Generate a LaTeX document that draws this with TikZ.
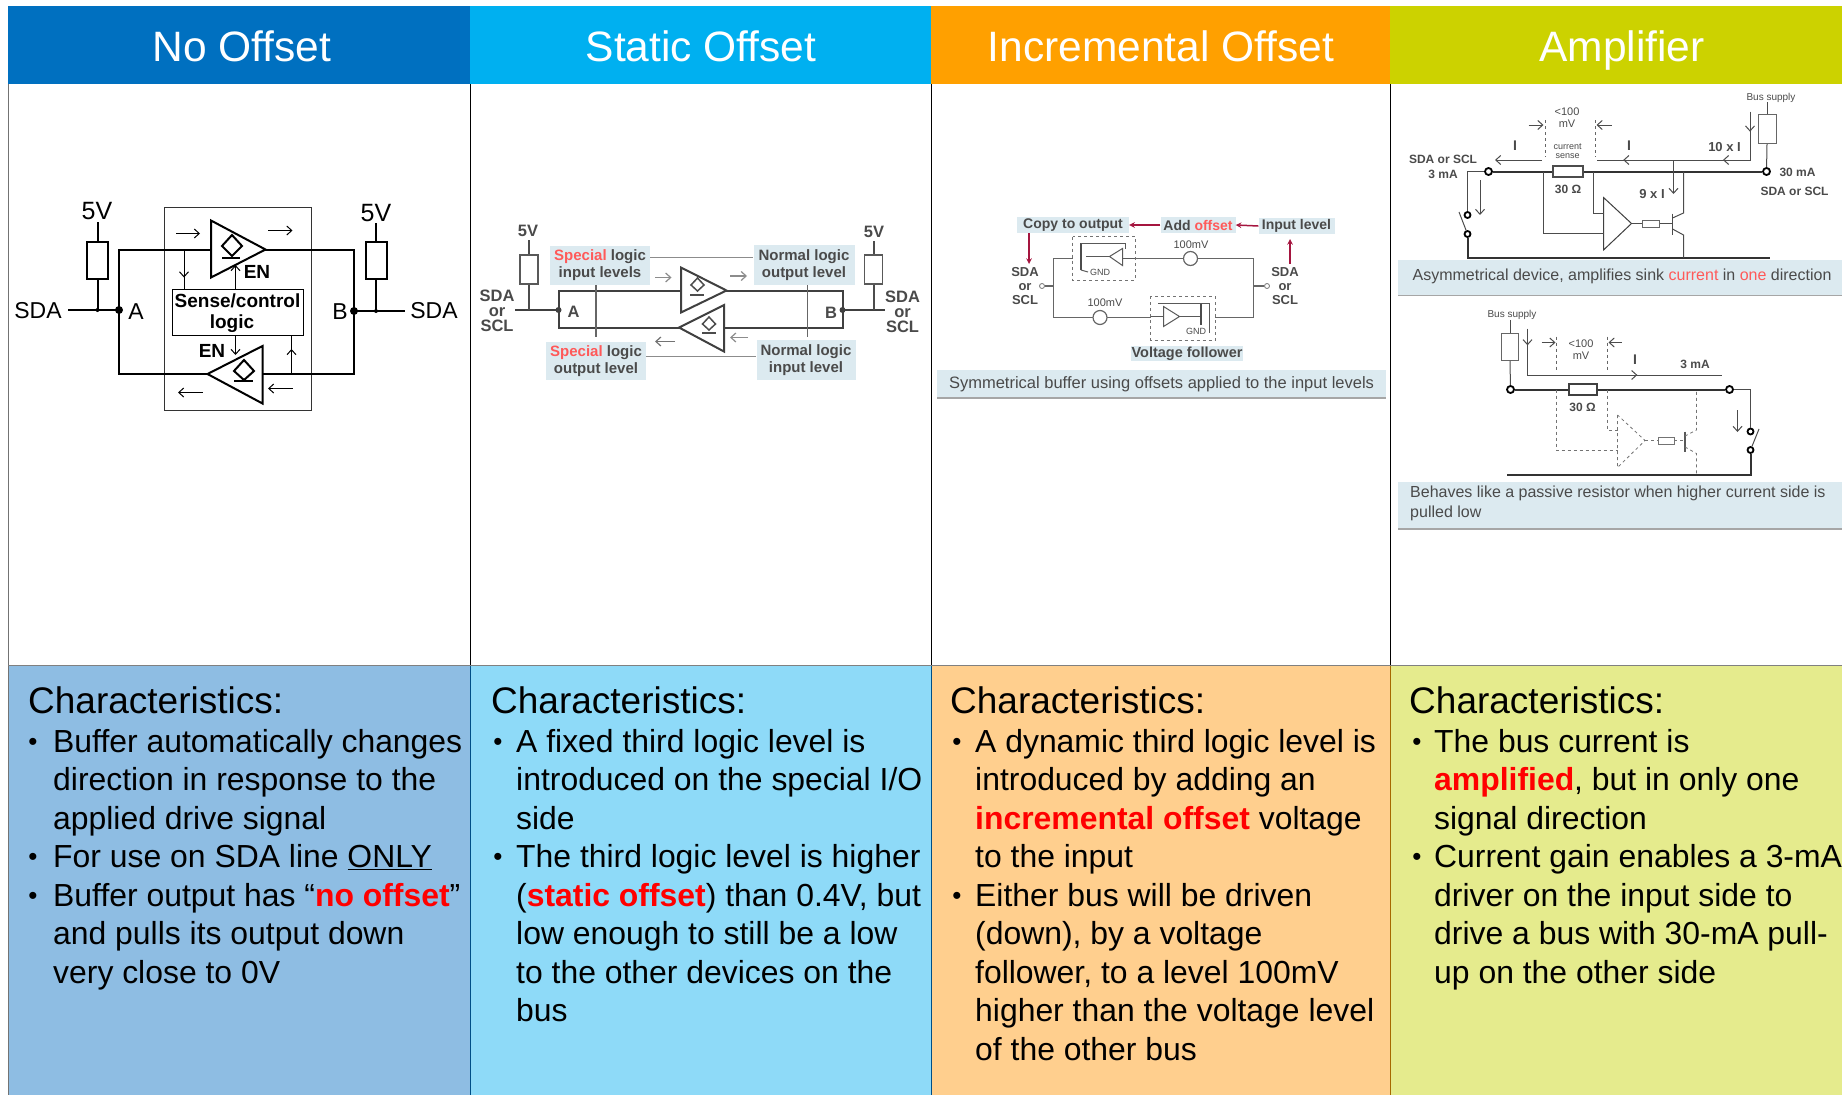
\documentclass[tikz,border=0pt]{standalone}
\usepackage{fontspec}
\setmainfont{Liberation Sans}
\usetikzlibrary{decorations.markings,arrows.meta}
\definecolor{hdblue}{HTML}{0070C0}
\definecolor{hdcyan}{HTML}{00B0F0}
\definecolor{hdorange}{HTML}{FFA000}
\definecolor{hdlime}{HTML}{CCD200}
\definecolor{pnblue}{HTML}{8EBDE3}
\definecolor{pncyan}{HTML}{8EDAF8}
\definecolor{pnorange}{HTML}{FFCF8E}
\definecolor{pnlime}{HTML}{E5EB8D}
\definecolor{tagblue}{HTML}{DCEAF0}
\definecolor{ink}{HTML}{4A4A4A}
\definecolor{crimson}{HTML}{A5153F}
\newcommand{\hot}[1]{\textcolor{red}{\textbf{#1}}}
\newcommand{\soft}[1]{\textcolor{red!65!white}{#1}}
\tikzset{
  headtext/.style={anchor=base,text=white,font=\fontsize{42.5}{42.5}\selectfont},
  charhead/.style={anchor=base west,font=\fontsize{37}{37}\selectfont},
  bodytext/.style={anchor=base west,align=left,inner sep=0pt,yshift=-1pt,font=\fontsize{31.9}{38.5}\selectfont},
  bulletmark/.style={anchor=base,inner sep=0pt,yshift=1pt,font=\fontsize{26}{38.5}\selectfont},
  res/.style={draw,fill=white,line width=#1,inner sep=0pt},
  res/.default=2pt,
  circlab/.style={inner sep=0pt,font=\fontsize{23}{23}\selectfont},
  logiclab/.style={inner sep=0pt,align=center,font=\bfseries\fontsize{19}{20.5}\selectfont},
  greylab/.style={inner sep=0pt,align=center,text=ink,font=\bfseries\fontsize{16.5}{15.3}\selectfont},
  taglab/.style={fill=tagblue,align=center,text=ink,inner sep=0pt,font=\bfseries\fontsize{15}{17}\selectfont},
  tiny/.style={inner sep=0pt,text=ink,align=center,font=\fontsize{11}{12}\selectfont},
  capt/.style={inner sep=0pt,text=ink,font=\fontsize{16}{20}\selectfont},
  port/.style={circle,draw,fill=white,line width=1.8pt,minimum size=7pt,inner sep=0pt},
  midarrow/.style={postaction={decorate,decoration={markings,mark=at position #1 with {\arrow{>}}}}},
  wire/.style={line width=2pt},
  thin wire/.style={line width=1pt}
}
\begin{document}
\begin{tikzpicture}[x=1pt,y=-1pt,>={Straight Barb[length=5pt,width=9pt]}]
    \useasboundingbox (0, 0) rectangle (1842, 1095);
    % header bands
    \foreach \xa/\xb/\col in {8/470/hdblue,470/931/hdcyan,931/1390/hdorange,1390/1842/hdlime}
      \fill [\col] (\xa, 6) rectangle (\xb, 84);
    % body panels
    \foreach \xa/\xb/\col in {8/470/pnblue,470/931/pncyan,931/1390/pnorange,1390/1842/pnlime}
      \fill [\col] (\xa, 666) rectangle (\xb, 1095);
    % frame
    \draw [color=black!55, line width=1.5pt] (8.5, 84) -- (8.5, 1095);
    \draw [color=black!50, line width=1.5pt] (8, 665.5) -- (1842, 665.5);
    \draw [color=black, line width=1.3pt] (470.5, 84) -- (470.5, 665);
    \draw [color=black, line width=1.3pt] (931.5, 84) -- (931.5, 665);
    \draw [color=black, line width=1.3pt] (1390.5, 84) -- (1390.5, 665);
    \draw [color=hdblue!70!black, line width=1.5pt] (470.5, 666) -- (470.5, 1095);
    \draw [color=hdblue!70!black, line width=1.5pt] (931.5, 666) -- (931.5, 1095);
    \draw [color=hdorange!65!black, line width=1.5pt] (1390.5, 666) -- (1390.5, 1095);
    % header titles
    \node [headtext] (titleNo) at (242, 61) {No Offset};
    \node [headtext] (titleStatic) at (701, 61) {Static Offset};
    \node [headtext] (titleIncr) at (1161, 61) {Incremental Offset};
    \node [headtext] (titleAmp) at (1622, 61) {Amplifier};

    % no offset text (anchored on the last line)
    \node [charhead, inner sep=0pt] (charNo) at (28, 713) {Characteristics:};
    \node [bulletmark] (bulNo1) at (33, 751) {•};
    \node [bodytext] (txtNo1) at (53, 828) {Buffer automatically changes\\direction in response to the\\applied drive signal};
    \node [bulletmark] (bulNo2) at (33, 866.5) {•};
    \node [bodytext] (txtNo2) at (53, 866.5) {For use on SDA line \underline{ONLY}};
    \node [bulletmark] (bulNo3) at (33, 905) {•};
    \node [bodytext] (txtNo3) at (53, 982) {Buffer output has “\hot{no offset}”\\and pulls its output down\\very close to 0V};
    % static offset text
    \node [charhead, inner sep=0pt] (charStatic) at (491, 713) {Characteristics:};
    \node [bulletmark] (bulStatic1) at (498, 751) {•};
    \node [bodytext] (txtStatic1) at (516, 828) {A fixed third logic level is\\introduced on the special I/O\\side};
    \node [bulletmark] (bulStatic2) at (498, 866.5) {•};
    \node [bodytext] (txtStatic2) at (516, 1020.5) {The third logic level is higher\\(\hot{static offset}) than 0.4V, but\\low enough to still be a low\\to the other devices on the\\bus};
    % incremental offset text
    \node [charhead, inner sep=0pt] (charIncr) at (950, 713) {Characteristics:};
    \node [bulletmark] (bulIncr1) at (957, 751) {•};
    \node [bodytext] (txtIncr1) at (975, 866.5) {A dynamic third logic level is\\introduced by adding an\\\hot{incremental offset} voltage\\to the input};
    \node [bulletmark] (bulIncr2) at (957, 905) {•};
    \node [bodytext] (txtIncr2) at (975, 1059) {Either bus will be driven\\(down), by a voltage\\follower, to a level 100mV\\higher than the voltage level\\of the other bus};
    % amplifier text
    \node [charhead, inner sep=0pt] (charAmp) at (1409, 713) {Characteristics:};
    \node [bulletmark] (bulAmp1) at (1417, 751) {•};
    \node [bodytext] (txtAmp1) at (1434, 828) {The bus current is\\\hot{amplified}, but in only one\\signal direction};
    \node [bulletmark] (bulAmp2) at (1417, 866.5) {•};
    \node [bodytext] (txtAmp2) at (1434, 982) {Current gain enables a 3-mA\\driver on the input side to\\drive a bus with 30-mA pull-\\up on the other side};

    %% circuit 1: no offset
    \draw [thin wire, color=black!80] (164.5, 207.5) rectangle (311, 410.5);
    \coordinate (noTL) at (119, 249.5);
    \coordinate (noTR) at (354, 249.5);
    \coordinate (noBL) at (119, 374);
    \coordinate (noBR) at (354, 374);
    \coordinate (noA) at (119, 310);
    \coordinate (noB) at (354, 311);
    % bus loop
    \draw [wire] (noTL) -- (noTR) -- (noBR) -- (noBL) -- cycle;
    % left pull-up
    \coordinate (no5VA) at (97.5, 222);
    \coordinate (noJA) at (97.5, 310);
    \node [res, minimum width=21pt, minimum height=37pt] (noResA) at (97.5, 260) {};
    \draw [wire] (no5VA) -- (noResA.north);
    \draw [wire] (noResA.south) -- (noJA);
    \draw [wire] (68, 310) -- (noA);
    % right pull-up
    \coordinate (no5VB) at (376, 223);
    \coordinate (noJB) at (376, 311);
    \node [res, minimum width=21pt, minimum height=37pt] (noResB) at (376, 260) {};
    \draw [wire] (no5VB) -- (noResB.north);
    \draw [wire] (noResB.south) -- (noJB);
    \draw [wire] (noB) -- (405, 311);
    \fill (noA) circle (4);
    \fill (noB) circle (4);
    \fill (noJA) circle (2);
    \fill (noJB) circle (2);
    % amplifiers
    \draw [wire, fill=white] (211, 220.5) -- (211, 277.5) -- (265.5, 249.5) -- cycle;
    \draw [wire, fill=white] (262.5, 346) -- (262.5, 403.5) -- (207.5, 374) -- cycle;
    \draw [wire] (232, 235) -- (242, 246) -- (232, 256) -- (222, 246) -- cycle;
    \draw [wire] (222, 257.5) -- (240, 257.5);
    \draw [wire] (244, 360) -- (254, 371) -- (244, 380) -- (234, 371) -- cycle;
    \draw [wire] (234, 381) -- (253, 381);
    % sense logic
    \node [draw, thin wire, fill=white, minimum width=131pt, minimum height=46pt, inner sep=0pt] (noLogic) at (237.5, 312.5) {};
    \node [logiclab] (noLogicTxt) at (237.5, 313) {Sense/control\\logic\hspace*{11pt}};
    % signal arrows
    \draw [thin wire, ->] (176, 233.5) -- (200, 233.5);
    \draw [thin wire, ->] (268, 230.5) -- (292.5, 230.5);
    \draw [thin wire, ->] (202.5, 392.5) -- (178, 392.5);
    \draw [thin wire, ->] (292.5, 388.5) -- (268, 388.5);
    \draw [thin wire, midarrow=0.7] (184, 249.5) -- (184, 289.5);
    \draw [thin wire, ->] (235.5, 289.5) -- (235.5, 265);
    \draw [thin wire, ->] (235.5, 335.5) -- (235.5, 355);
    \draw [thin wire, midarrow=0.65] (291.5, 374) -- (291.5, 335.5);
    % labels
    \node [circlab, font=\fontsize{25}{25}\selectfont] (no5Vl) at (97, 211.5) {5V};
    \node [circlab, font=\fontsize{25}{25}\selectfont] (no5Vr) at (376, 213) {5V};
    \node [circlab] (noSDAl) at (38, 311) {SDA};
    \node [circlab] (noSDAr) at (434, 311) {SDA};
    \node [circlab] (noAl) at (136, 311.5) {A};
    \node [circlab] (noBl) at (340, 312) {B};
    \node [logiclab] (noENa) at (257, 271.5) {EN};
    \node [logiclab] (noENb) at (212, 350.5) {EN};

    %% circuit 2: static offset
    % tag boxes
    \node [taglab, minimum width=100pt, minimum height=39pt] (stSpIn) at (600, 265.5) {\soft{Special} logic\\input levels};
    \node [taglab, minimum width=101pt, minimum height=40pt] (stNoOut) at (804, 265) {Normal logic\\output level};
    \node [taglab, minimum width=100pt, minimum height=38pt] (stSpOut) at (596, 361) {\soft{Special} logic\\output level};
    \node [taglab, minimum width=99pt, minimum height=40pt] (stNoIn) at (806, 360) {Normal logic\\input level};
    \draw [color=black!45, line width=1.5pt] (stSpIn.east |- 0, 257.5) -- (stNoOut.west |- 0, 257.5);
    \draw [color=black!45, line width=1.5pt] (stSpOut.east |- 0, 356.5) -- (stNoIn.west |- 0, 356.5);
    % bus loop
    \draw [wire, color=black!75] (558.5, 290.5) -- (842.5, 290.5) -- (842.5, 327.5) -- (558.5, 327.5) -- cycle;
    \draw [color=black!60, line width=1.2pt] (596, 285) -- (596, 336.5);
    \draw [color=black!60, line width=1.2pt] (807.5, 285) -- (807.5, 336.5);
    \draw [wire, color=black!75] (515, 310) -- (558.5, 310);
    \draw [wire, color=black!75] (842.5, 310) -- (885, 310);
    \fill [color=black!75] (558.5, 310) circle (3);
    \fill [color=black!75] (842.5, 310) circle (3);
    % pull-ups
    \node [res=1.5pt, draw=black!65, minimum width=18pt, minimum height=29pt] (stResA) at (529, 269.5) {};
    \node [res=1.5pt, draw=black!65, minimum width=18pt, minimum height=29pt] (stResB) at (873.5, 269.5) {};
    \draw [wire, color=black!70] (529, 240) -- (stResA.north);
    \draw [wire, color=black!70] (stResA.south) -- (529, 310);
    \draw [wire, color=black!70] (873.5, 241) -- (stResB.north);
    \draw [wire, color=black!70] (stResB.south) -- (873.5, 310);
    % amplifiers
    \draw [wire, color=black!75, fill=white] (681, 267.5) -- (681, 312.5) -- (726.5, 290.5) -- cycle;
    \draw [wire, color=black!75, fill=white] (724, 305) -- (724, 351.5) -- (679, 327.5) -- cycle;
    \draw [line width=1.5pt, color=black!70] (697.5, 278) -- (704, 285) -- (697.5, 291) -- (691, 285) -- cycle;
    \draw [line width=1.5pt, color=black!70] (690, 295) -- (704, 295);
    \draw [line width=1.5pt, color=black!70] (709, 317) -- (715.5, 324) -- (709, 330) -- (702.5, 324) -- cycle;
    \draw [line width=1.5pt, color=black!70] (702, 333) -- (716, 333);
    % signal arrows
    \draw [color=black!45, line width=1.2pt, ->] (655, 277.5) -- (671.5, 277.5);
    \draw [color=black!45, line width=1.2pt, ->] (730, 276) -- (747, 276);
    \draw [color=black!55, line width=1.2pt, ->] (675, 341.5) -- (655, 341.5);
    \draw [color=black!45, line width=1.2pt, ->] (748, 337.5) -- (730, 337.5);
    % labels
    \node [greylab] (st5Vl) at (528, 231) {5V};
    \node [greylab] (st5Vr) at (874, 232) {5V};
    \node [greylab] (stSDAl) at (497, 311) {SDA\\or\\SCL};
    \node [greylab] (stSDAr) at (902.5, 312) {SDA\\or\\SCL};
    \node [greylab] (stAl) at (573.5, 311.5) {A};
    \node [greylab] (stBl) at (831, 312.5) {B};

    %% circuit 3: incremental offset
    \draw [color=black!60, line width=1.2pt] (1053.5, 258.5) rectangle (1253.5, 317.5);
    \node [port, draw=black!55, line width=0.8pt, minimum size=5pt] (incrPortL) at (1042, 286) {};
    \node [port, draw=black!55, line width=0.8pt, minimum size=5pt] (incrPortR) at (1267, 286) {};
    \draw [color=black!60, line width=1.2pt] (incrPortL) -- (1053.5, 286);
    \draw [color=black!60, line width=1.2pt] (1253.5, 286) -- (incrPortR);
    % voltage sources
    \node [circle, draw=black!60, fill=white, line width=1.2pt, minimum size=14pt, inner sep=0pt] (incrSrcA) at (1190.5, 258.5) {};
    \node [circle, draw=black!60, fill=white, line width=1.2pt, minimum size=14pt, inner sep=0pt] (incrSrcB) at (1100, 317.5) {};
    % upper buffer
    \draw [color=black!55, dashed, fill=white, line width=0.8pt] (1072.5, 236.5) rectangle (1135, 280);
    \draw [color=black!65, line width=1pt, fill=white] (1122.5, 248.5) -- (1122.5, 265.5) -- (1109.5, 256.5) -- cycle;
    \draw [color=black!65, line width=1pt] (1122.5, 258.5) -- (1135, 258.5);
    \draw [color=black!65, line width=1pt] (1086, 256.5) -- (1109.5, 256.5);
    \draw [color=black!70, line width=1.5pt] (1081, 243) -- (1081, 270);
    \draw [color=black!65, line width=1pt] (1081, 243) -- (1125, 243) -- (1125, 248.5);
    \draw [color=black!65, line width=1pt] (1081, 270) -- (1088, 272);
    \node [tiny, fill=white, font=\fontsize{9}{9}\selectfont] (incrGndA) at (1100, 272) {GND};
    % lower buffer
    \draw [color=black!55, dashed, fill=white, line width=0.8pt] (1150.5, 296) rectangle (1215, 340);
    \draw [color=black!65, line width=1pt, fill=white] (1163.5, 306.5) -- (1163.5, 326.5) -- (1179.5, 316.5) -- cycle;
    \draw [color=black!65, line width=1pt] (1150.5, 316.5) -- (1163.5, 316.5);
    \draw [color=black!65, line width=1pt] (1179.5, 316.5) -- (1201, 316.5);
    \draw [color=black!70, line width=1.5pt] (1201, 303) -- (1201, 325);
    \draw [color=black!65, line width=1pt] (1158, 303) -- (1209, 303) -- (1209, 333);
    \node [tiny, fill=white, font=\fontsize{9}{9}\selectfont] (incrGndB) at (1196, 331) {GND};
    % tags
    \node [taglab, minimum width=112pt, minimum height=16pt, font=\bfseries\fontsize{14}{16}\selectfont] (incrCopy) at (1073, 225) {Copy to output};
    \node [taglab, minimum width=75pt, minimum height=16pt, font=\bfseries\fontsize{14}{16}\selectfont] (incrAdd) at (1198, 225) {Add \soft{offset}};
    \node [taglab, minimum width=76pt, minimum height=16pt, font=\bfseries\fontsize{14}{16}\selectfont] (incrInput) at (1296.5, 226) {Input level};
    \node [taglab, minimum width=112pt, minimum height=15pt, font=\bfseries\fontsize{14.5}{16}\selectfont] (incrFollow) at (1187, 353.5) {Voltage follower};
    \node [taglab, minimum width=449pt, minimum height=28pt, font=\fontsize{16.5}{19}\selectfont] (incrCap) at (1161.5, 384) {Symmetrical buffer using offsets applied to the input levels};
    \draw [color=black!35, line width=1.5pt] (incrCap.south west) -- (incrCap.south east);
    % crimson arrows
    \draw [color=crimson, line width=1.5pt, -stealth] (incrAdd.west) -- (incrCopy.east);
    \draw [color=crimson, line width=1.5pt, -stealth] (incrInput.west) -- (incrAdd.east);
    \draw [color=crimson, line width=1.5pt, -stealth] (1029, 233) -- (1029, 264);
    \draw [color=crimson, line width=1.5pt, -stealth] (1290, 264) -- (1290, 239);
    % labels
    \node [tiny] (incrMVa) at (1191, 245) {100mV};
    \node [tiny] (incrMVb) at (1105, 303) {100mV};
    \node [greylab, font=\bfseries\fontsize{13}{14}\selectfont] (incrSDAl) at (1025, 286) {SDA\\or\\SCL};
    \node [greylab, font=\bfseries\fontsize{13}{14}\selectfont] (incrSDAr) at (1285, 286) {SDA\\or\\SCL};

    %% circuit 4a: amplifier, sink direction
    \node [port] (ampPortA) at (1488.5, 171.5) {};
    \node [port] (ampPortB) at (1766.5, 171.5) {};
    \node [res=1.5pt, draw=black!70, minimum width=30pt, minimum height=11pt] (ampSense) at (1568, 171.5) {};
    \draw [wire, color=black!80] (ampPortA) -- (ampSense);
    \draw [wire, color=black!80] (ampSense) -- (ampPortB);
    \node [res=1pt, draw=black!60, minimum width=18pt, minimum height=29pt] (ampSupply) at (1767, 129) {};
    \draw [thin wire, color=black!70] (1767, 102) -- (ampSupply.north);
    \draw [thin wire, color=black!70] (ampSupply.south) -- (ampPortB);
    % current path
    \draw [thin wire, color=black!70, midarrow=0.1, midarrow=0.375, midarrow=0.87] (1750, 111.5) -- (1750, 160) -- (1597, 160);
    \draw [thin wire, color=black!70, ->] (1541.5, 160) -- (1495, 160);
    \draw [thin wire, color=black!70, ->] (1673.5, 160) -- (1673.5, 194);
    \draw [color=black!60, dashed, line width=0.8pt] (1545, 120) -- (1545, 157);
    \draw [color=black!60, dashed, line width=0.8pt] (1595, 120) -- (1595, 157);
    \draw [thin wire, color=black!70, ->] (1528.5, 125) -- (1543.5, 125);
    \draw [thin wire, color=black!70, ->] (1611.5, 125) -- (1596.5, 125);
    % switch and rail
    \node [port, minimum size=6pt] (ampSwA) at (1467.5, 215) {};
    \node [port, minimum size=6pt] (ampSwB) at (1467.5, 234) {};
    \draw [thin wire, color=black!70] (ampPortA) -- (1467.5, 171.5) -- (ampSwA);
    \draw [wire, color=black!80] (ampSwB) -- (1467.5, 257.5) -- (1769.5, 257.5);
    \draw [thin wire, color=black!70] (ampSwB) -- (1459, 212);
    \draw [thin wire, color=black!70, ->] (1480, 180) -- (1480, 215);
    % comparator and transistor
    \draw [thin wire, color=black!75, fill=white] (1603.5, 197.5) -- (1603.5, 250) -- (1631.5, 223.5) -- cycle;
    \draw [thin wire, color=black!70] (1593.5, 171.5) -- (1593.5, 213.5) -- (1603.5, 213.5);
    \draw [thin wire, color=black!70] (1543.5, 171.5) -- (1543.5, 233.5) -- (1603.5, 233.5);
    \node [res=1pt, draw=black!60, minimum width=17pt, minimum height=7pt] (ampBase) at (1651, 223.5) {};
    \draw [thin wire, color=black!70] (1631.5, 223.5) -- (ampBase);
    \draw [thin wire, color=black!70] (ampBase) -- (1672.5, 223.5);
    \draw [line width=1.5pt, color=black!70] (1672.5, 213.5) -- (1672.5, 235);
    \draw [thin wire, color=black!70] (1672.5, 218) -- (1683.5, 213) -- (1683.5, 171.5);
    \draw [thin wire, color=black!70] (1672.5, 229) -- (1683.5, 235) -- (1683.5, 257.5);
    % labels
    \node [tiny, font=\fontsize{10}{11}\selectfont] (ampSupLab) at (1771, 97.5) {Bus supply};
    \node [tiny] (ampLim) at (1567, 118) {<100\\mV};
    \node [tiny, font=\fontsize{9}{9.5}\selectfont] (ampSenseLab) at (1567.5, 151) {current\\sense};
    \node [greylab, font=\bfseries\fontsize{14}{14}\selectfont] (ampIa) at (1515, 146) {I};
    \node [greylab, font=\bfseries\fontsize{14}{14}\selectfont] (ampIb) at (1629, 146) {I};
    \node [greylab, font=\bfseries\fontsize{13}{14}\selectfont] (ampIc) at (1724.5, 147) {10 x I};
    \node [greylab, font=\bfseries\fontsize{13}{14}\selectfont] (ampId) at (1652, 194) {9 x I};
    \node [greylab, font=\bfseries\fontsize{12}{15}\selectfont] (ampInL) at (1443, 166.5) {SDA or SCL\\3 mA};
    \node [greylab, font=\bfseries\fontsize{12}{15}\selectfont] (ampOhm) at (1568, 189) {30 Ω};
    \node [greylab, font=\bfseries\fontsize{12}{15}\selectfont] (ampOutA) at (1797.5, 172.5) {30 mA};
    \node [greylab, font=\bfseries\fontsize{12}{15}\selectfont] (ampOutB) at (1794.5, 191) {SDA or SCL};
    % caption
    \node [fill=tagblue, minimum width=444pt, minimum height=35pt, inner sep=0pt, anchor=north west] (ampCapA) at (1398, 260) {};
    \draw [color=black!35, line width=1.5pt] (ampCapA.south west) -- (ampCapA.south east);
    \node [capt] (ampCapTxt) at (1622, 276.5) {Asymmetrical device, amplifies sink \soft{current} in \soft{one} direction};

    %% circuit 4b: amplifier, passive direction
    \node [port] (pasPortA) at (1510.5, 389.5) {};
    \node [port] (pasPortB) at (1729.5, 389.5) {};
    \node [res=2pt, draw=black!75, minimum width=28pt, minimum height=11pt] (pasSense) at (1582.5, 389.5) {};
    \draw [wire, color=black!80] (pasPortA) -- (pasSense);
    \draw [wire, color=black!80] (pasSense) -- (pasPortB);
    \node [res=1pt, draw=black!60, minimum width=17pt, minimum height=27pt] (pasSupply) at (1510, 347) {};
    \draw [thin wire, color=black!70] (1510, 320) -- (pasSupply.north);
    \draw [thin wire, color=black!70] (pasSupply.south) -- (pasPortA);
    % current path
    \draw [thin wire, color=black!70, midarrow=0.07, midarrow=0.65] (1527.5, 328.5) -- (1527.5, 375) -- (1721.5, 375);
    \draw [color=black!60, dashed, line width=0.8pt] (1556.5, 336.5) -- (1556.5, 370);
    \draw [color=black!60, dashed, line width=0.8pt] (1607.5, 336.5) -- (1607.5, 370);
    \draw [thin wire, color=black!70, ->] (1541.5, 342.5) -- (1555.5, 342.5);
    \draw [thin wire, color=black!70, ->] (1621.5, 342.5) -- (1608.5, 342.5);
    % switch and rail
    \node [port, minimum size=6pt] (pasSwA) at (1750.5, 431.5) {};
    \node [port, minimum size=6pt] (pasSwB) at (1750.5, 450) {};
    \draw [thin wire, color=black!70] (pasPortB) -- (1750.5, 389.5) -- (pasSwA);
    \draw [wire, color=black!80] (pasSwB) -- (1750.5, 475) -- (1506.5, 475);
    \draw [thin wire, color=black!70] (pasSwB) -- (1759, 429);
    \draw [thin wire, color=black!70, ->] (1737.5, 410) -- (1737.5, 432);
    % comparator and transistor
    \draw [color=black!55, dashed, line width=0.8pt] (1617.5, 415) -- (1617.5, 467.5) -- (1645, 440.5) -- cycle;
    \draw [color=black!55, dashed, line width=0.8pt] (1607.5, 389.5) -- (1607.5, 430) -- (1617.5, 430);
    \draw [color=black!55, dashed, line width=0.8pt] (1556.5, 389.5) -- (1556.5, 450.5) -- (1617.5, 450.5);
    \node [res=0.8pt, draw=black!55, minimum width=16pt, minimum height=7pt] (pasBase) at (1666, 440.5) {};
    \draw [color=black!55, dashed, line width=0.8pt] (1645, 440.5) -- (pasBase);
    \draw [color=black!55, dashed, line width=0.8pt] (pasBase) -- (1685, 440.5);
    \draw [line width=1.2pt, color=black!65] (1685, 431.5) -- (1685, 451.5);
    \draw [color=black!55, dashed, line width=0.8pt] (1685, 436) -- (1696.5, 430) -- (1696.5, 389.5);
    \draw [color=black!55, dashed, line width=0.8pt] (1685, 447) -- (1696.5, 453.5) -- (1696.5, 475);
    % labels
    \node [tiny, font=\fontsize{10}{11}\selectfont] (pasSupLab) at (1512, 315) {Bus supply};
    \node [tiny] (pasLim) at (1581, 350) {<100\\mV};
    \node [greylab, font=\bfseries\fontsize{14}{14}\selectfont] (pasI) at (1635, 360) {I};
    \node [greylab, font=\bfseries\fontsize{12}{15}\selectfont] (pasCur) at (1695, 364) {3 mA};
    \node [greylab, font=\bfseries\fontsize{12}{15}\selectfont] (pasOhm) at (1582.5, 407.5) {30 Ω};
    % caption
    \node [fill=tagblue, minimum width=444pt, minimum height=47pt, inner sep=0pt, anchor=north west] (pasCap) at (1398, 481.5) {};
    \draw [color=black!35, line width=1.5pt] (pasCap.south west) -- (pasCap.south east);
    \node [capt, align=left, anchor=north west] (pasCapTxt) at (1410, 486) {Behaves like a passive resistor when higher current side is\\pulled low};
  \end{tikzpicture}
\end{document}
